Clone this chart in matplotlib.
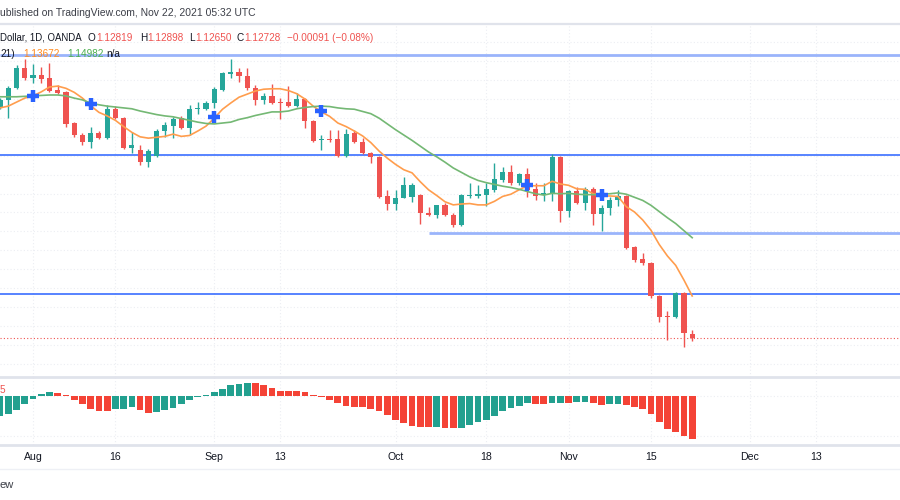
import numpy as np
import pandas as pd
import matplotlib
matplotlib.use("Agg")
import matplotlib.pyplot as plt
from matplotlib.lines import Line2D
from matplotlib.transforms import blended_transform_factory

# ---------------- data ----------------
start_date = "2021-07-27"
end_date = "2021-11-22"

opens = [1.1792, 1.1808, 1.1835, 1.1880, 1.1858, 1.1864, 1.1858, 1.1831, 1.1826, 1.1757,
         1.1730, 1.1714, 1.1734, 1.1723, 1.1788, 1.1768, 1.1700, 1.1696, 1.1669, 1.1682,
         1.1739, 1.1750, 1.1768, 1.1745, 1.1788, 1.1788, 1.1801, 1.1831, 1.1867, 1.1871,
         1.1862, 1.1835, 1.1808, 1.1817, 1.1804, 1.1804, 1.1795, 1.1810, 1.1761, 1.1718,
         1.1720, 1.1720, 1.1682, 1.1734, 1.1714, 1.1689, 1.1680, 1.1592, 1.1574, 1.1588,
         1.1590, 1.1595, 1.1554, 1.1549, 1.1572, 1.1549, 1.1527, 1.1592, 1.1592, 1.1595,
         1.1606, 1.1628, 1.1646, 1.1622, 1.1642, 1.1608, 1.1595, 1.1599, 1.1680, 1.1558,
         1.1604, 1.1576, 1.1608, 1.1552, 1.1565, 1.1583, 1.1592, 1.1478, 1.1450, 1.1441,
         1.1367, 1.1322, 1.1320, 1.1374, 1.12819]
highs = [1.1813, 1.1840, 1.1887, 1.1900, 1.1889, 1.1882, 1.1891, 1.1842, 1.1828, 1.1759,
         1.1734, 1.1748, 1.1739, 1.1797, 1.1795, 1.1770, 1.1736, 1.1707, 1.1698, 1.1743,
         1.1759, 1.1770, 1.1772, 1.1797, 1.1804, 1.1806, 1.1837, 1.1871, 1.1900, 1.1880,
         1.1880, 1.1842, 1.1824, 1.1844, 1.1813, 1.1840, 1.1824, 1.1813, 1.1763, 1.1730,
         1.1741, 1.1741, 1.1743, 1.1741, 1.1723, 1.1691, 1.1682, 1.1606, 1.1606, 1.1635,
         1.1622, 1.1597, 1.1567, 1.1572, 1.1576, 1.1554, 1.1597, 1.1622, 1.1617, 1.1622,
         1.1667, 1.1658, 1.1662, 1.1644, 1.1655, 1.1622, 1.1622, 1.1687, 1.1682, 1.1606,
         1.1613, 1.1613, 1.1613, 1.1572, 1.1590, 1.1606, 1.1595, 1.1480, 1.1464, 1.1443,
         1.1369, 1.1333, 1.1376, 1.1376, 1.12898]
lows = [1.1788, 1.1768, 1.1833, 1.1853, 1.1846, 1.1846, 1.1826, 1.1822, 1.1748, 1.1725,
        1.1707, 1.1700, 1.1720, 1.1720, 1.1766, 1.1698, 1.1689, 1.1662, 1.1658, 1.1680,
        1.1725, 1.1723, 1.1743, 1.1730, 1.1777, 1.1786, 1.1790, 1.1828, 1.1858, 1.1849,
        1.1831, 1.1797, 1.1799, 1.1799, 1.1766, 1.1792, 1.1792, 1.1745, 1.1714, 1.1696,
        1.1714, 1.1680, 1.1680, 1.1711, 1.1687, 1.1667, 1.1588, 1.1561, 1.1561, 1.1588,
        1.1579, 1.1529, 1.1547, 1.1543, 1.1547, 1.1522, 1.1525, 1.1588, 1.1588, 1.1570,
        1.1601, 1.1624, 1.1617, 1.1617, 1.1590, 1.1583, 1.1581, 1.1581, 1.1534, 1.1545,
        1.1574, 1.1561, 1.1527, 1.1513, 1.1549, 1.1570, 1.1473, 1.1444, 1.1437, 1.1363,
        1.1309, 1.1268, 1.1318, 1.1253, 1.12650]
closes = [1.1808, 1.1835, 1.1880, 1.1858, 1.1864, 1.1855, 1.1828, 1.1824, 1.1754, 1.1730,
          1.1714, 1.1734, 1.1723, 1.1788, 1.1768, 1.1700, 1.1707, 1.1669, 1.1694, 1.1739,
          1.1752, 1.1766, 1.1745, 1.1788, 1.1790, 1.1801, 1.1833, 1.1869, 1.1871, 1.1862,
          1.1835, 1.1808, 1.1817, 1.1801, 1.1801, 1.1795, 1.1810, 1.1761, 1.1716, 1.1720,
          1.1718, 1.1682, 1.1732, 1.1714, 1.1689, 1.1680, 1.1590, 1.1574, 1.1588, 1.1617,
          1.1617, 1.1554, 1.1549, 1.1572, 1.1549, 1.1527, 1.1595, 1.1595, 1.1597, 1.1608,
          1.1631, 1.1646, 1.1622, 1.1642, 1.1606, 1.1592, 1.1599, 1.1680, 1.1558, 1.1604,
          1.1576, 1.1608, 1.1552, 1.1565, 1.1583, 1.1592, 1.1475, 1.1448, 1.1441, 1.1367,
          1.1320, 1.1320, 1.1374, 1.1284, 1.12728]

sma9 = [1.1790, 1.1794, 1.1803, 1.1812, 1.1817, 1.1826, 1.1837, 1.1839, 1.1834, 1.1825,
        1.1812, 1.1795, 1.1780, 1.1772, 1.1762, 1.1748, 1.1735, 1.1725, 1.1722, 1.1724,
        1.1726, 1.1731, 1.1726, 1.1728, 1.1738, 1.1749, 1.1767, 1.1787, 1.1801, 1.1814,
        1.1821, 1.1828, 1.1832, 1.1833, 1.1833, 1.1829, 1.1822, 1.1810, 1.1794, 1.1781,
        1.1771, 1.1756, 1.1748, 1.1738, 1.1727, 1.1712, 1.1693, 1.1677, 1.1663, 1.1651,
        1.1644, 1.1624, 1.1606, 1.1593, 1.1579, 1.1572, 1.1574, 1.1575, 1.1572, 1.1572,
        1.1580, 1.1591, 1.1596, 1.1606, 1.1615, 1.1615, 1.1615, 1.1625, 1.1619, 1.1616,
        1.1608, 1.1607, 1.1597, 1.1592, 1.1592, 1.1591, 1.1568, 1.1556, 1.1538, 1.1515,
        1.1483, 1.1457, 1.1436, 1.1403, 1.13672]
sma21 = [1.1815, 1.1815, 1.1815, 1.1816, 1.1817, 1.1818, 1.1819, 1.1819, 1.1817, 1.1812,
         1.1808, 1.1801, 1.1797, 1.1794, 1.1792, 1.1790, 1.1788, 1.1783, 1.1779, 1.1775,
         1.1772, 1.1770, 1.1766, 1.1762, 1.1758, 1.1755, 1.1754, 1.1756, 1.1758, 1.1764,
         1.1768, 1.1773, 1.1777, 1.1781, 1.1781, 1.1783, 1.1788, 1.1791, 1.1793, 1.1794,
         1.1793, 1.1790, 1.1788, 1.1787, 1.1782, 1.1777, 1.1767, 1.1754, 1.1741, 1.1729,
         1.1717, 1.1704, 1.1691, 1.1680, 1.1668, 1.1655, 1.1645, 1.1635, 1.1627, 1.1622,
         1.1618, 1.1614, 1.1611, 1.1607, 1.1602, 1.1597, 1.1594, 1.1598, 1.1597, 1.1598,
         1.1596, 1.1595, 1.1595, 1.1596, 1.1597, 1.1599, 1.1596, 1.1589, 1.1582, 1.1571,
         1.1557, 1.1543, 1.1530, 1.1514, 1.14982]

cross_dates = ["2021-08-02", "2021-08-11", "2021-09-01", "2021-09-20", "2021-10-25", "2021-11-05"]
cross_vals = [1.1817, 1.1799, 1.1769, 1.1782, 1.1617, 1.1595]

hist = [-0.00200, -0.00175, -0.00135, -0.00075, -0.00025, 0.00020, 0.00045, 0.00035, 0.00010, -0.00040,
        -0.00080, -0.00125, -0.00145, -0.00150, -0.00130, -0.00125, -0.00105, -0.00135, -0.00165, -0.00155,
        -0.00140, -0.00115, -0.00075, -0.00040, -0.00010, 0.00015, 0.00040, 0.00070, 0.00110, 0.00125,
        0.00130, 0.00128, 0.00110, 0.00085, 0.00055, 0.00050, 0.00048, 0.00040, 0.00010, -0.00010,
        -0.00040, -0.00070, -0.00095, -0.00105, -0.00110, -0.00125, -0.00150, -0.00190, -0.00240, -0.00270,
        -0.00300, -0.00305, -0.00308, -0.00306, -0.00317, -0.00319, -0.00316, -0.00290, -0.00263, -0.00240,
        -0.00197, -0.00150, -0.00123, -0.00097, -0.00073, -0.00080, -0.00083, -0.00073, -0.00070, -0.00073,
        -0.00063, -0.00060, -0.00073, -0.00090, -0.00080, -0.00078, -0.00090, -0.00113, -0.00130, -0.00183,
        -0.00257, -0.00333, -0.00363, -0.00397, -0.00430]

level_prices = [1.1909, 1.1684, 1.1509, 1.1372]
level_starts = [None, None, "2021-10-07", None]

tick_dates = ["2021-08-02", "2021-08-16", "2021-09-01", "2021-09-13", "2021-10-01",
              "2021-10-18", "2021-11-01", "2021-11-15", "2021-12-01", "2021-12-13"]
tick_labels = ["Aug", "16", "Sep", "13", "Oct", "18", "Nov", "15", "Dec", "13"]

header_text = "ublished on TradingView.com, Nov 22, 2021 05:32 UTC"
legend_name = "Dollar, 1D, OANDA"
legend_ohlc = [("O", "1.12819"), ("H", "1.12898"), ("L", "1.12650"), ("C", "1.12728")]
legend_change = "\u22120.00091 (\u22120.08%)"
ma_prefix = "21)"
ma_values = ["1.13672", "1.14982", "n/a"]

# ---------------- style ----------------
TEAL = "#26a69a"
RED = "#ef5350"
H_TEAL = "#22a08f"
H_RED = "#f44336"
ORANGE = "#ff9d4d"
GREEN = "#74b874"
BLUE = "#2962ff"
LBLUE = "#9ab4fb"
TXT = "#131722"
GRID = "#eceef3"
SEP = "#e0e3eb"
FONT = ["Liberation Sans", "DejaVu Sans"]
plt.rcParams["font.family"] = FONT

W, H = 900, 500
def fy(py):
    return 1 - py / H

fig = plt.figure(figsize=(9, 5), dpi=100)
fig.patch.set_facecolor("white")
renderer = fig.canvas.get_renderer()

ax = fig.add_axes([0, fy(377), 1, (377 - 24) / H])
axh = fig.add_axes([0, fy(445), 1, (445 - 377) / H], sharex=ax)
for a in (ax, axh):
    a.set_facecolor("white")
    for s in a.spines.values():
        s.set_visible(False)
    a.tick_params(left=False, bottom=False, labelleft=False, labelbottom=False)

all_days = pd.bdate_range(start_date, "2021-12-31")
data_days = pd.bdate_range(start_date, end_date)
xi = np.array([all_days.get_loc(d) for d in data_days])
def pos(d):
    return all_days.get_loc(pd.Timestamp(d))

o = np.array(opens); h = np.array(highs); l = np.array(lows); c = np.array(closes)

ax.set_xlim(-0.005, 109.22)
ax.set_ylim(1.11851, 1.19786)
axh.set_ylim(-0.0049, 0.0019)

# grid
tick_pos = [pos(d) for d in tick_dates]
for tp in tick_pos:
    ax.axvline(tp, color=GRID, lw=0.8, ls=(0, (1, 2)), zorder=0)
    axh.axvline(tp, color=GRID, lw=0.8, ls=(0, (1, 2)), zorder=0)
for gl in np.arange(1.1300 - 3 * 0.00425, 1.2, 0.00425):
    ax.axhline(gl, color=GRID, lw=0.8, ls=(0, (1, 2)), zorder=0)
for gl in (0.0, -0.004):
    axh.axhline(gl, color=GRID, lw=0.8, ls=(0, (1, 2)), zorder=0)

# levels
xmin, xmax = ax.get_xlim()
for lp, ls_ in zip(level_prices, level_starts):
    light = lp in (level_prices[0], level_prices[2])
    x0 = xmin if ls_ is None else pos(ls_)
    ax.plot([x0, xmax], [lp, lp], color=LBLUE if light else BLUE,
            lw=2.0 if light else 1.1, zorder=1, solid_capstyle="butt")

# last price line
ax.axhline(c[-1], color=RED, lw=0.8, ls=(0, (1, 2)), zorder=1)

# candles
up = c >= o
col = np.where(up, TEAL, RED)
ax.vlines(xi, l, h, colors=col, lw=1.0, zorder=3)
ax.bar(xi, np.maximum(np.abs(c - o), 0.00018), bottom=np.minimum(o, c), width=0.62,
       color=col, linewidth=0, zorder=4)

# moving averages
ax.plot(xi, sma9, color=ORANGE, lw=1.2, zorder=5)
ax.plot(xi, sma21, color=GREEN, lw=1.2, zorder=5)
ax.plot([pos(d) for d in cross_dates], cross_vals, ls="none", marker="+",
        markersize=9, mew=3.2, color=BLUE, zorder=6)

# histogram
hv = np.array(hist)
rising = np.concatenate([[True], np.diff(hv) > 0])
axh.bar(xi, hv, width=0.82, color=np.where(rising, H_TEAL, H_RED), linewidth=0, zorder=3)

# separators
for yy, cc, lw in [(24, SEP, 1.6), (377, SEP, 2.0), (445, SEP, 2.0), (469, "#eef0f5", 1.0)]:
    fig.add_artist(Line2D([0, 1], [fy(yy), fy(yy)], transform=fig.transFigure, color=cc, lw=lw))

# x labels
tr = blended_transform_factory(axh.transData, fig.transFigure)
for tp, lab in zip(tick_pos, tick_labels):
    axh.text(tp, fy(457), lab, transform=tr, ha="center", va="center", fontsize=7.6,
             color=TXT, clip_on=False)

# texts
FS = 7.2
def put(xpx, ypx, s, color, fs=FS):
    t = fig.text(xpx / W, fy(ypx), s, fontsize=fs, color=color, va="center", ha="left")
    return xpx + t.get_window_extent(renderer).width

fig.text(0, fy(13), header_text, fontsize=7.5, color="#3c3f48", va="center", ha="left")
put(0, 38, legend_name, TXT, fs=6.9)
for xx, (k, v) in zip([88, 140, 189, 237], legend_ohlc):
    xe = put(xx, 38, k, TXT)
    put(xe + 0.5, 38, v, RED)
put(287, 38, legend_change, RED)
put(0, 54, ma_prefix, TXT)
for xx, v, cc in zip([23, 67, 106], ma_values, ["#ff8a1f", "#4caf50", TXT]):
    put(xx, 54, v, cc)
put(0, 390, "5", RED)
fig.text(0, fy(485), "ew", fontsize=8.0, color="#3c3f48", va="center", ha="left")

fig.savefig("out.png", dpi=100, facecolor="white")
